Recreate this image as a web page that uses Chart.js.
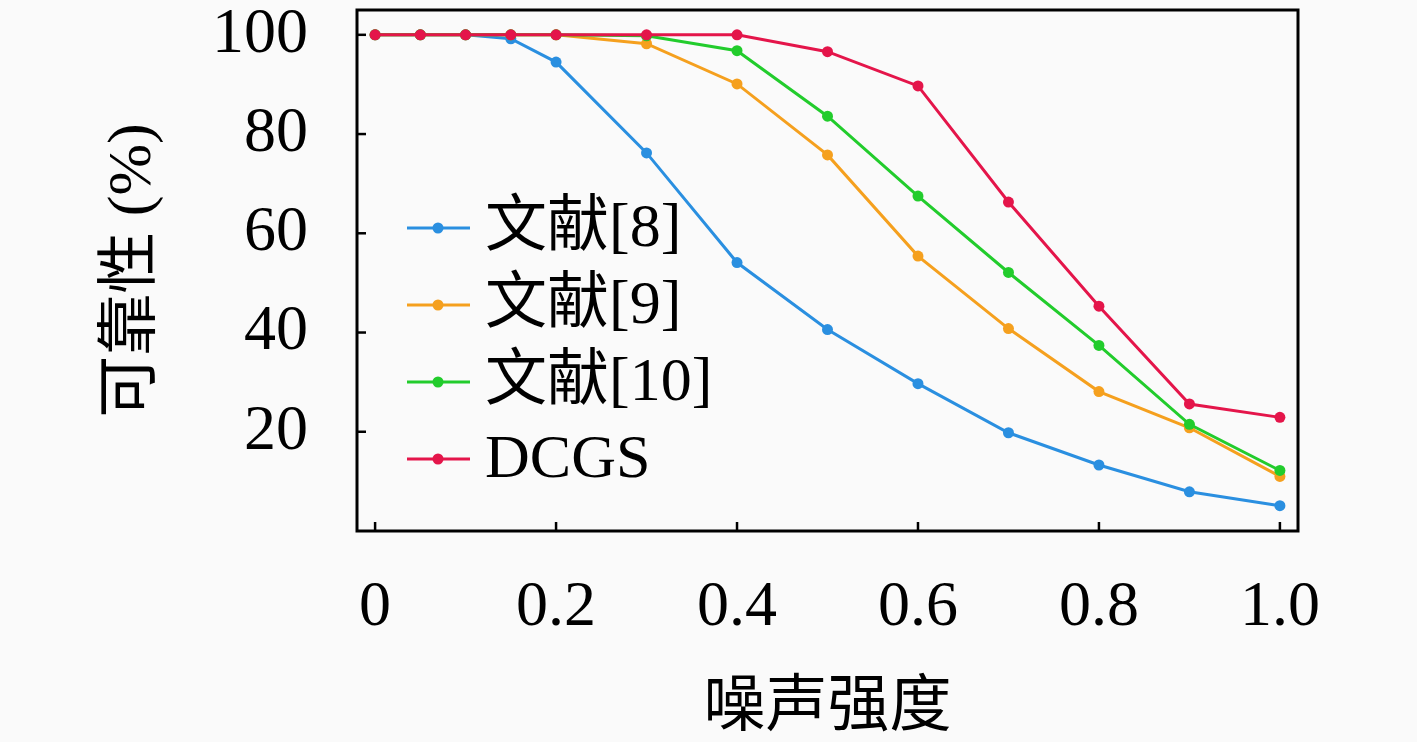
<!DOCTYPE html>
<html>
<head>
<meta charset="utf-8">
<script src="https://cdn.jsdelivr.net/npm/chart.js@4"></script>
<style>
  html, body { margin: 0; padding: 0; background: #fafafa; }
  #wrap { width: 1417px; height: 742px; }
</style>
</head>
<body>
<div id="wrap"><canvas id="chart" width="1417" height="742"></canvas></div>
<script>
// noise level (x) and reliability % for each method
const noise = [0, 0.05, 0.1, 0.15, 0.2, 0.3, 0.4, 0.5, 0.6, 0.7, 0.8, 0.9, 1.0];
const ref8  = [100, 100, 100, 99.2, 94.5, 76.2, 54.1, 40.6, 29.7, 19.8, 13.3, 7.9, 5.1];
const ref9  = [100, 100, 100, 100, 100, 98.2, 90.1, 75.8, 55.4, 40.8, 28.1, 20.8, 11.0];
const ref10 = [100, 100, 100, 100, 100, 99.8, 96.8, 83.6, 67.5, 52.1, 37.4, 21.5, 12.2];
const dcgs  = [100, 100, 100, 100, 100, 100, 100, 96.6, 89.7, 66.3, 45.3, 25.6, 22.9];

const seriesNames = ['文献[8]', '文献[9]', '文献[10]', 'DCGS'];
const xTicks = [0, 0.2, 0.4, 0.6, 0.8, 1.0];
const yTicks = [20, 40, 60, 80, 100];

const colors = ['#2a8fe0', '#f5a01e', '#22cc2c', '#e4154a'];
const FONT = "'Liberation Serif', 'Noto Sans CJK SC', serif";

const toPoints = ys => ys.map((y, i) => ({ x: noise[i], y: y }));

const mkSet = (label, ys, color, order) => ({
  label,
  data: toPoints(ys),
  borderColor: color,
  backgroundColor: color,
  borderWidth: 3,
  pointRadius: 5.5,
  pointHoverRadius: 5.5,
  pointBorderWidth: 0,
  tension: 0,
  order
});

// frame, inward tick marks, and legend inside the plot area
const framePlugin = {
  id: 'frame',
  afterDraw(chart) {
    const { ctx, chartArea: a, scales } = chart;
    ctx.save();
    ctx.strokeStyle = '#000';
    ctx.lineWidth = 2.5;
    xTicks.forEach(v => {
      const px = scales.x.getPixelForValue(v);
      ctx.beginPath(); ctx.moveTo(px, a.bottom); ctx.lineTo(px, a.bottom - 9); ctx.stroke();
    });
    yTicks.forEach(v => {
      const py = scales.y.getPixelForValue(v);
      ctx.beginPath(); ctx.moveTo(a.left, py); ctx.lineTo(a.left + 9, py); ctx.stroke();
    });
    ctx.lineWidth = 3;
    ctx.strokeRect(a.left, a.top, a.right - a.left, a.bottom - a.top);

    // legend
    ctx.font = '62px ' + FONT;
    ctx.textBaseline = 'middle';
    ctx.textAlign = 'left';
    chart.data.datasets.forEach((ds, i) => {
      const y = a.top + 218 + i * 77;
      const x0 = a.left + 50;
      ctx.strokeStyle = ds.borderColor;
      ctx.lineWidth = 3;
      ctx.beginPath(); ctx.moveTo(x0, y); ctx.lineTo(x0 + 63, y); ctx.stroke();
      ctx.fillStyle = ds.borderColor;
      ctx.beginPath(); ctx.arc(x0 + 31, y, 5.5, 0, Math.PI * 2); ctx.fill();
      ctx.fillStyle = '#000';
      ctx.fillText(ds.label, x0 + 78, y + 2);
    });
    ctx.restore();
  }
};

new Chart(document.getElementById('chart'), {
  type: 'line',
  data: {
    datasets: [
      mkSet(seriesNames[0], ref8, colors[0], 3),
      mkSet(seriesNames[1], ref9, colors[1], 2),
      mkSet(seriesNames[2], ref10, colors[2], 1),
      mkSet(seriesNames[3], dcgs, colors[3], 0)
    ]
  },
  options: {
    responsive: false,
    devicePixelRatio: 1,
    animation: false,
    layout: { padding: { top: 10, right: 119, left: 0, bottom: 0 } },
    plugins: {
      legend: { display: false },
      tooltip: { enabled: false }
    },
    scales: {
      x: {
        type: 'linear',
        min: -0.02,
        max: 1.02,
        afterBuildTicks: s => { s.ticks = xTicks.map(v => ({ value: v })); },
        afterFit: s => { s.height = 211; s.paddingLeft = 0; s.paddingRight = 0; },
        grid: { display: false, drawTicks: false },
        border: { display: false },
        ticks: {
          padding: 39,
          color: '#000',
          font: { family: FONT, size: 64 },
          maxRotation: 0,
          callback: v => v === 0 ? '0' : v.toFixed(1)
        },
        title: {
          display: true,
          text: '噪声强度',
          color: '#000',
          font: { family: FONT, size: 62, lineHeight: 1 },
          padding: { top: 0, bottom: 1 }
        }
      },
      y: {
        type: 'linear',
        min: 0,
        max: 105,
        afterBuildTicks: s => { s.ticks = yTicks.map(v => ({ value: v })); },
        afterFit: s => { s.width = 357; s.paddingTop = 0; s.paddingBottom = 0; },
        grid: { display: false, drawTicks: false },
        border: { display: false },
        ticks: {
          padding: 49,
          color: '#000',
          font: { family: FONT, size: 64 }
        },
        title: {
          display: true,
          text: '可靠性 (%)',
          color: '#000',
          font: { family: FONT, size: 62, lineHeight: 1 },
          padding: { top: 103, bottom: 0 }
        }
      }
    }
  },
  plugins: [framePlugin]
});
</script>
</body>
</html>
